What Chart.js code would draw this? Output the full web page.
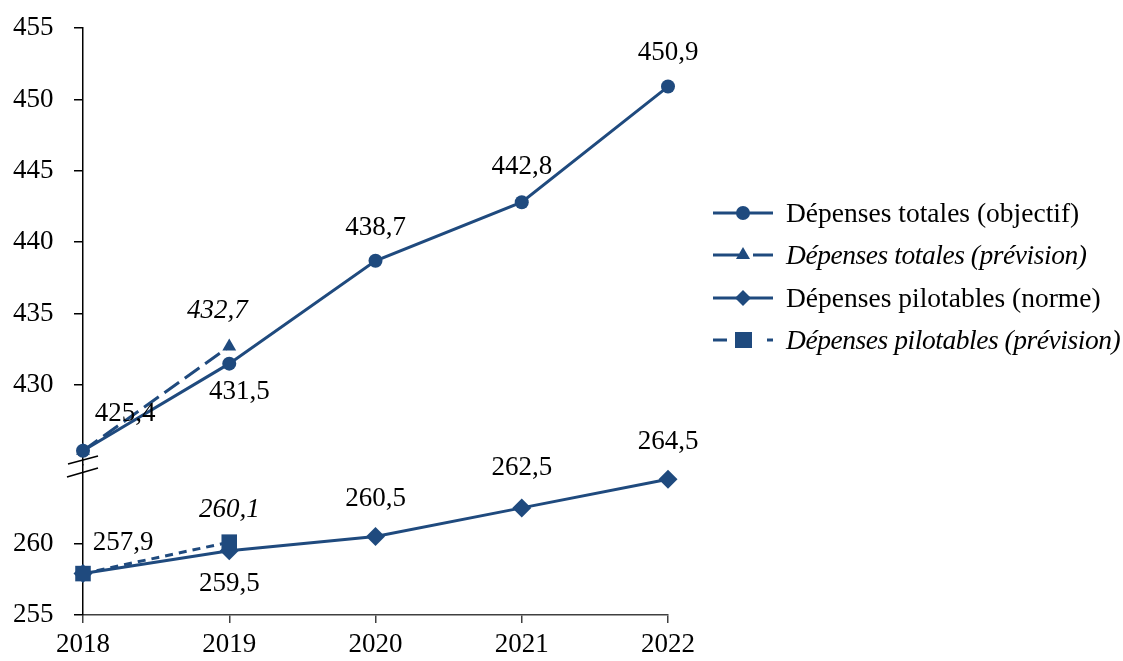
<!DOCTYPE html>
<html>
<head>
<meta charset="utf-8">
<script src="https://cdn.jsdelivr.net/npm/chart.js@4.4.1/dist/chart.umd.min.js"></script>
<style>
  html, body { margin: 0; padding: 0; background: #fff; }
  #wrap { position: relative; width: 1123px; height: 661px; overflow: hidden; }
  #legend { position: absolute; left: 713px; top: 192px; width: 420px; font-family: 'Liberation Serif', serif; font-size: 27.5px; color: #000; }
  .item { display: flex; align-items: center; height: 42.3px; }
  .item svg { width: 60px; height: 22px; margin-right: 13px; flex: none; }
  .item span { white-space: nowrap; }
  .it { font-style: italic; letter-spacing: -0.45px; }
</style>
</head>
<body>
<div id="wrap">
  <canvas id="c" width="1123" height="661"></canvas>
  <div id="legend"></div>
</div>
<script>
// Années et séries (milliards d'euros)
const categories = ['2018', '2019', '2020', '2021', '2022'];
const totalesObjectif = [425.4, 431.5, 438.7, 442.8, 450.9];
const totalesPrevision = [425.4, 432.7, null, null, null];
const pilotablesNorme = [257.9, 259.5, 260.5, 262.5, 264.5];
const pilotablesPrevision = [257.9, 260.1, null, null, null];

// Graduations des deux segments de l'axe vertical (axe coupé)
const ticksHaut = [430, 435, 440, 445, 450, 455];
const ticksBas = [255, 260];

const seriesNames = [
  'Dépenses totales (objectif)',
  'Dépenses totales (prévision)',
  'Dépenses pilotables (norme)',
  'Dépenses pilotables (prévision)'
];

const BLUE = '#1F4A7E';
const FONT = '"Liberation Serif", serif';
const fmt = v => v.toFixed(1).replace('.', ',');

// Étiquettes de valeur dessinées à côté des points
const valueLabels = {
  id: 'valueLabels',
  afterDatasetsDraw(chart) {
    const ctx = chart.ctx;
    chart.data.datasets.forEach((ds, i) => {
      const lab = ds.valueLabels;
      if (!lab) return;
      const meta = chart.getDatasetMeta(i);
      ctx.save();
      ctx.font = (lab.italic ? 'italic ' : '') + '27px ' + FONT;
      ctx.fillStyle = '#000';
      ctx.textAlign = 'center';
      ctx.textBaseline = 'middle';
      meta.data.forEach((pt, j) => {
        const off = lab.offsets[j];
        if (!off || ds.data[j] == null) return;
        ctx.fillText(fmt(ds.data[j]), pt.x + off[0], pt.y + off[1]);
      });
      ctx.restore();
    });
  }
};

// Symbole de coupure de l'axe vertical entre les deux segments
const axisBreak = {
  id: 'axisBreak',
  afterDraw(chart) {
    const top = chart.scales.yTop;
    const x = top.right;
    const b = top.bottom;
    const ctx = chart.ctx;
    ctx.save();
    ctx.strokeStyle = '#000';
    ctx.lineWidth = 1.6;
    ctx.beginPath();
    ctx.moveTo(x - 15, b - 1); ctx.lineTo(x + 15, b - 9);
    ctx.moveTo(x - 16, b + 12); ctx.lineTo(x + 15, b + 3);
    ctx.stroke();
    ctx.restore();
  }
};

// Axe vertical : libellés alignés à gauche de la zone d'axe
const yCommon = (ticksList) => ({
  type: 'linear',
  position: 'left',
  stack: 'y',
  afterBuildTicks: s => { s.ticks = ticksList.map(v => ({ value: v })); },
  afterFit: s => { s.width = 70; },
  grid: { drawOnChartArea: false, drawTicks: true, tickLength: 9, color: '#000', lineWidth: 1.5 },
  border: { color: '#000', width: 1.5 },
  ticks: { font: { family: FONT, size: 27 }, color: '#000', padding: 3, crossAlign: 'far' }
});

const chart = new Chart(document.getElementById('c'), {
  type: 'line',
  data: {
    labels: categories,
    datasets: [
      {
        label: seriesNames[0], data: totalesObjectif, yAxisID: 'yTop', order: 1,
        borderColor: BLUE, backgroundColor: BLUE, borderWidth: 3,
        pointStyle: 'circle', pointRadius: 7, pointBorderWidth: 0, clip: false,
        valueLabels: { italic: false, offsets: [[42, -37], [10, 28], [0, -33], [0, -35], [0, -34]] }
      },
      {
        label: seriesNames[1], data: totalesPrevision, yAxisID: 'yTop', order: 2,
        borderColor: BLUE, backgroundColor: BLUE, borderWidth: 3, borderDash: [18, 7],
        pointStyle: 'triangle', pointRadius: 8, pointBorderWidth: 0, clip: false, spanGaps: false,
        valueLabels: { italic: true, offsets: [null, [-12, -36], null, null, null] }
      },
      {
        label: seriesNames[2], data: pilotablesNorme, yAxisID: 'yBot', order: 4,
        borderColor: BLUE, backgroundColor: BLUE, borderWidth: 3,
        pointStyle: 'rectRot', pointRadius: 9.5, pointBorderWidth: 0, clip: false,
        valueLabels: { italic: false, offsets: [[40, -31], [0, 33], [0, -38], [0, -40], [0, -37]] }
      },
      {
        label: seriesNames[3], data: pilotablesPrevision, yAxisID: 'yBot', order: 3,
        borderColor: BLUE, backgroundColor: BLUE, borderWidth: 3, borderDash: [8, 6],
        pointStyle: 'rect', pointRadius: 11, pointBorderWidth: 0, clip: false,
        valueLabels: { italic: true, offsets: [null, [0, -32], null, null, null] }
      }
    ]
  },
  options: {
    responsive: false,
    devicePixelRatio: 1,
    animation: false,
    layout: { padding: { top: 28, right: 455, left: 13, bottom: 0 } },
    plugins: { legend: { display: false }, tooltip: { enabled: false } },
    scales: {
      x: {
        type: 'category',
        offset: false,
        afterFit: s => { s.height = 46; },
        grid: { drawOnChartArea: false, drawTicks: true, tickLength: 8, color: '#404040', lineWidth: 1.5 },
        border: { color: '#404040', width: 1.5 },
        ticks: { font: { family: FONT, size: 27 }, color: '#000', padding: 6, maxRotation: 0 }
      },
      // segment bas déclaré en premier : la pile se remplit de bas en haut
      yBot: Object.assign(yCommon(ticksBas), { min: 255, max: 265.5, stackWeight: 10.5 }),
      yTop: Object.assign(yCommon(ticksHaut), { min: 424.4, max: 455, stackWeight: 30.6 })
    }
  },
  plugins: [valueLabels, axisBreak]
});

// Légende : trait + symbole de chaque série
const samples = [
  '<line x1="0" y1="11" x2="60" y2="11" stroke="' + BLUE + '" stroke-width="3"/><circle cx="30" cy="11" r="7" fill="' + BLUE + '"/>',
  '<line x1="0" y1="11" x2="26" y2="11" stroke="' + BLUE + '" stroke-width="3"/><line x1="40" y1="11" x2="60" y2="11" stroke="' + BLUE + '" stroke-width="3"/><polygon points="30,3 37,15 23,15" fill="' + BLUE + '"/>',
  '<line x1="0" y1="11" x2="60" y2="11" stroke="' + BLUE + '" stroke-width="3"/><polygon points="30,3 38,11 30,19 22,11" fill="' + BLUE + '"/>',
  '<line x1="0" y1="11" x2="14" y2="11" stroke="' + BLUE + '" stroke-width="3"/><line x1="54" y1="11" x2="60" y2="11" stroke="' + BLUE + '" stroke-width="3"/><rect x="22" y="3" width="17" height="16" fill="' + BLUE + '"/>'
];
document.getElementById('legend').innerHTML = seriesNames.map((n, i) =>
  '<div class="item"><svg viewBox="0 0 60 22">' + samples[i] + '</svg><span' + (i % 2 ? ' class="it"' : '') + '>' + n + '</span></div>'
).join('');
</script>
</body>
</html>
